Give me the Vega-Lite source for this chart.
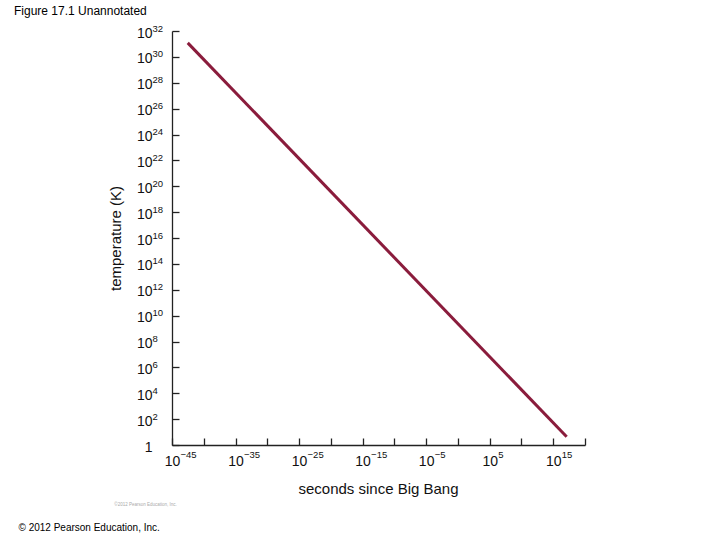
{
  "$schema": "https://vega.github.io/schema/vega-lite/v6.json",
  "width": 413,
  "height": 414,
  "autosize": {"type": "none"},
  "padding": {"left": 172, "top": 31, "right": 135, "bottom": 95},
  "background": "white",
  "config": {
    "font": "Liberation Sans",
    "view": {"stroke": null},
    "axis": {"grid": false, "domainColor": "#222", "tickColor": "#222", "labelColor": "#111", "titleColor": "#111", "titleFontWeight": "normal", "labelFont": "Liberation Sans", "titleFont": "Liberation Sans"}
  },
  "title": {
    "text": "Figure 17.1 Unannotated",
    "anchor": "start",
    "frame": "group",
    "dx": -158,
    "dy": 12,
    "offset": 8,
    "fontSize": 12,
    "fontWeight": "normal",
    "color": "#000",
    "baseline": "alphabetic"
  },
  "data": {
    "values": [
      {"t": 3e-43, "T": 1.2e31},
      {"t": 1.3e17, "T": 4.4}
    ]
  },
  "layer": [
    {
      "mark": {"type": "line", "color": "#8a1c3c", "strokeWidth": 3, "strokeCap": "butt"},
      "encoding": {
        "x": {
          "field": "t",
          "type": "quantitative",
          "scale": {"type": "log", "domain": [1e-45, 1e20]},
          "axis": {
            "orient": "bottom",
            "values": [1e-45, 1e-40, 1e-35, 1e-30, 1e-25, 1e-20, 1e-15, 1e-10, 1e-5, 1, 1e5, 1e10, 1e15, 1e20],
            "labelExpr": "abs(round(log(datum.value)/LN10)) % 10 == 5 ? '10' : ''",
            "tickSize": -7,
            "tickWidth": 1.3,
            "domainWidth": 1.3,
            "labelFontSize": 14,
            "labelAlign": "center",
            "labelBaseline": "alphabetic",
            "labelPadding": 27,
            "labelFlush": false,
            "labelOverlap": false,
            "title": "seconds since Big Bang",
            "titleFontSize": 15,
            "titleX": 206,
            "titleY": 48,
            "titleAlign": "center",
            "titleBaseline": "alphabetic"
          }
        },
        "y": {
          "field": "T",
          "type": "quantitative",
          "scale": {"type": "log", "domain": [1, 1e32]},
          "axis": {
            "orient": "left",
            "values": [1, 1e2, 1e4, 1e6, 1e8, 1e10, 1e12, 1e14, 1e16, 1e18, 1e20, 1e22, 1e24, 1e26, 1e28, 1e30, 1e32],
            "labelExpr": "datum.value < 1.5 ? '1' : '10'",
            "tickSize": -7,
            "tickWidth": 1.3,
            "domainWidth": 1.3,
            "labelFontSize": 14,
            "labelAlign": "right",
            "labelBaseline": "alphabetic",
            "labelOffset": 6,
            "labelPadding": 27,
            "labelFlush": false,
            "labelOverlap": false,
            "title": "temperature (K)",
            "titleFontSize": 15,
            "titleAngle": -90,
            "titleX": -52,
            "titleY": 207,
            "titleAlign": "center",
            "titleBaseline": "alphabetic"
          }
        }
      }
    },
    {
      "mark": {"type": "line", "opacity": 0},
      "encoding": {
        "x": {
          "field": "t",
          "type": "quantitative",
          "axis": {
            "orient": "bottom",
            "values": [1e-45, 1e-40, 1e-35, 1e-30, 1e-25, 1e-20, 1e-15, 1e-10, 1e-5, 1, 1e5, 1e10, 1e15, 1e20],
            "labelExpr": "abs(round(log(datum.value)/LN10)) % 10 == 5 ? (round(log(datum.value)/LN10) < 0 ? '−' + abs(round(log(datum.value)/LN10)) : '' + round(log(datum.value)/LN10)) : ''",
            "domain": false,
            "tickSize": -7,
            "tickOpacity": 0,
            "labelFontSize": 9.5,
            "labelAlign": "left",
            "labelOffset": 8,
            "labelBaseline": "alphabetic",
            "labelPadding": 19,
            "labelFlush": false,
            "labelOverlap": false,
            "title": null
          }
        },
        "y": {
          "field": "T",
          "type": "quantitative",
          "axis": {
            "orient": "left",
            "values": [1, 1e2, 1e4, 1e6, 1e8, 1e10, 1e12, 1e14, 1e16, 1e18, 1e20, 1e22, 1e24, 1e26, 1e28, 1e30, 1e32],
            "labelExpr": "datum.value < 1.5 ? '' : '' + round(log(datum.value)/LN10)",
            "domain": false,
            "tickSize": -7,
            "tickOpacity": 0,
            "labelFontSize": 9.5,
            "labelAlign": "left",
            "labelBaseline": "alphabetic",
            "labelOffset": 0,
            "labelPadding": 27,
            "labelFlush": false,
            "labelOverlap": false,
            "title": null
          }
        }
      }
    },
    {
      "mark": {"type": "line", "opacity": 0},
      "encoding": {
        "x": {
          "field": "t",
          "type": "quantitative",
          "axis": {
            "orient": "top",
            "domain": false,
            "ticks": false,
            "labels": false,
            "title": "© 2012 Pearson Education, Inc.",
            "titleFontSize": 10,
            "titleColor": "#000",
            "titleX": -154,
            "titleY": 496,
            "titleAlign": "left",
            "titleBaseline": "middle"
          }
        },
        "y": {
          "field": "T",
          "type": "quantitative",
          "axis": {
            "orient": "right",
            "domain": false,
            "ticks": false,
            "labels": false,
            "title": "©2012 Pearson Education, Inc.",
            "titleFontSize": 4.5,
            "titleColor": "#aaa",
            "titleAngle": 0,
            "titleX": -440,
            "titleY": 473,
            "titleAlign": "center",
            "titleBaseline": "middle"
          }
        }
      }
    }
  ],
  "resolve": {"axis": {"x": "independent", "y": "independent"}}
}
